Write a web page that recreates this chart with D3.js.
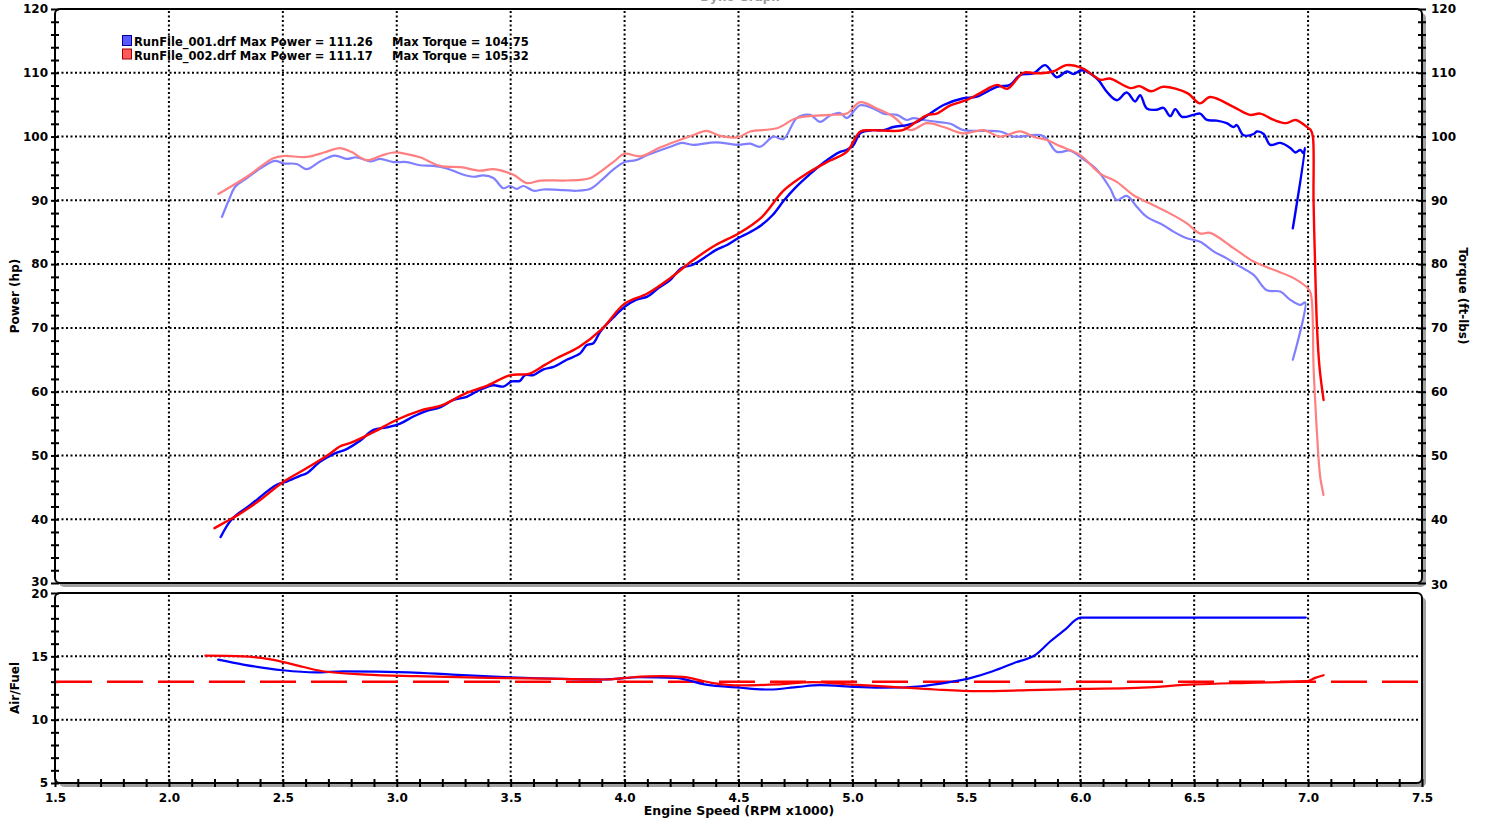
<!DOCTYPE html>
<html>
<head>
<meta charset="utf-8">
<script src="https://cdn.jsdelivr.net/npm/d3@7"></script>
<style>
    body { margin: 0; background: #fff; }
    svg text { font-family: "DejaVu Sans", Verdana, sans-serif; font-weight: bold; fill: #000; }
    .tick text { font-size: 12px; }
</style>
</head>
<body>
<svg id="chart" width="1485" height="825"></svg>
<script>
    // RunFile_001 (blue) - [rpm x1000, value]
    var pwr1 = [
        [2.227, 37.2], [2.276, 40.0], [2.356, 42.2], [2.473, 45.4], [2.517, 45.9], [2.575, 46.8],
        [2.605, 47.2], [2.663, 49.0], [2.722, 50.2], [2.78, 51.0], [2.839, 52.3], [2.898, 54.0],
        [2.956, 54.4], [3.015, 55.0], [3.073, 56.1], [3.132, 57.0], [3.19, 57.55], [3.249, 58.7],
        [3.307, 59.2], [3.366, 60.3], [3.424, 61.0], [3.468, 60.8], [3.505, 61.6], [3.541, 61.7],
        [3.563, 62.6], [3.60, 62.6], [3.644, 63.5], [3.688, 63.9], [3.746, 65.0], [3.805, 66.0],
        [3.834, 67.3], [3.863, 67.6], [3.893, 69.4], [3.95, 71.6], [4.00, 73.3], [4.05, 74.4],
        [4.10, 74.9], [4.15, 76.3], [4.20, 77.5], [4.25, 79.4], [4.30, 79.9], [4.35, 81.0],
        [4.40, 82.2], [4.45, 83.0], [4.50, 84.1], [4.55, 85.0], [4.60, 86.1], [4.65, 87.7],
        [4.70, 90.0], [4.75, 92.0], [4.81, 94.0], [4.873, 95.9], [4.946, 97.6], [4.975, 97.9],
        [5.005, 98.7], [5.034, 100.5], [5.092, 101.0], [5.136, 101.0], [5.18, 101.5], [5.239, 101.8],
        [5.283, 102.3], [5.341, 103.6], [5.40, 104.95], [5.487, 106.0], [5.546, 106.25], [5.634, 107.8],
        [5.692, 108.1], [5.736, 109.65], [5.795, 109.9], [5.846, 111.2], [5.897, 109.3], [5.941, 110.2],
        [5.97, 109.8], [6.007, 110.4], [6.073, 109.1], [6.117, 107.0], [6.161, 105.7], [6.204, 106.9],
        [6.241, 105.5], [6.263, 106.5], [6.292, 104.4], [6.336, 104.2], [6.365, 104.5], [6.395, 103.2],
        [6.417, 104.3], [6.446, 103.1], [6.497, 103.4], [6.526, 103.6], [6.556, 102.6], [6.599, 102.5],
        [6.643, 102.1], [6.673, 101.5], [6.687, 101.8], [6.717, 100.2], [6.761, 100.4], [6.775, 100.8],
        [6.805, 100.4], [6.834, 98.7], [6.878, 99.0], [6.922, 98.2], [6.944, 97.5], [6.966, 97.9],
        [6.98, 97.4], [6.987, 98.2], [6.933, 85.6]
    ];
    var trq1 = [
        [2.233, 87.4], [2.265, 90.2], [2.29, 92.1], [2.342, 93.5], [2.414, 95.3], [2.466, 96.2],
        [2.502, 95.8], [2.561, 95.7], [2.605, 94.9], [2.663, 96.1], [2.729, 97.0], [2.78, 96.5],
        [2.824, 96.75], [2.883, 96.1], [2.927, 96.5], [2.985, 96.0], [3.044, 96.0], [3.102, 95.5],
        [3.161, 95.4], [3.22, 95.0], [3.278, 94.2], [3.336, 93.7], [3.38, 93.9], [3.424, 93.5],
        [3.468, 91.9], [3.497, 92.25], [3.527, 91.8], [3.556, 92.25], [3.60, 91.5], [3.644, 91.7],
        [3.731, 91.6], [3.79, 91.5], [3.85, 91.8], [3.90, 93.2], [3.95, 94.8], [4.00, 96.0],
        [4.05, 96.3], [4.10, 97.1], [4.20, 98.4], [4.25, 99.0], [4.30, 98.7], [4.40, 99.1],
        [4.50, 98.7], [4.551, 98.9], [4.595, 98.4], [4.653, 100.0], [4.697, 99.6], [4.756, 102.9],
        [4.814, 103.4], [4.858, 102.3], [4.902, 103.3], [4.946, 103.7], [4.975, 102.9], [5.034, 104.9],
        [5.092, 104.4], [5.136, 103.6], [5.195, 103.4], [5.239, 102.6], [5.268, 102.9], [5.312, 102.6],
        [5.371, 102.3], [5.43, 102.0], [5.487, 101.0], [5.575, 100.9], [5.648, 100.8], [5.707, 100.0],
        [5.838, 100.1], [5.897, 97.6], [5.956, 97.8], [6.0, 96.8], [6.073, 94.8], [6.131, 91.9],
        [6.16, 90.05], [6.204, 90.7], [6.248, 89.0], [6.292, 87.4], [6.365, 86.1], [6.409, 85.1],
        [6.468, 84.05], [6.526, 83.5], [6.585, 82.0], [6.643, 80.9], [6.702, 79.6], [6.761, 78.3],
        [6.819, 75.9], [6.878, 75.7], [6.922, 74.4], [6.966, 73.6], [6.987, 74.0], [6.933, 65.0]
    ];
    var afr1 = [
        [2.216, 14.74], [2.326, 14.35], [2.50, 13.9], [2.642, 13.74], [2.768, 13.82], [3.053, 13.74],
        [3.243, 13.56], [3.496, 13.35], [3.718, 13.22], [3.908, 13.17], [4.066, 13.35], [4.224, 13.30],
        [4.35, 12.78], [4.508, 12.52], [4.635, 12.38], [4.762, 12.59], [4.856, 12.72], [5.014, 12.59],
        [5.141, 12.52], [5.30, 12.64], [5.426, 12.96], [5.521, 13.30], [5.616, 13.82], [5.71, 14.48],
        [5.805, 15.13], [5.868, 16.17], [5.932, 17.09], [6.001, 18.06], [6.99, 18.06]
    ];

    // RunFile_002 (red)
    var pwr2 = [
        [2.20, 38.6], [2.25, 39.6], [2.30, 40.6], [2.40, 43.0], [2.50, 45.8], [2.60, 47.9],
        [2.70, 50.1], [2.75, 51.4], [2.80, 52.0], [2.90, 53.7], [3.00, 55.6], [3.10, 57.0],
        [3.20, 57.9], [3.30, 59.7], [3.40, 61.0], [3.50, 62.6], [3.58, 62.8], [3.65, 64.2],
        [3.70, 65.2], [3.80, 67.0], [3.90, 69.8], [4.00, 73.8], [4.10, 75.4], [4.20, 77.8],
        [4.30, 80.6], [4.40, 83.0], [4.50, 84.8], [4.60, 87.3], [4.70, 91.6], [4.80, 94.2],
        [4.90, 96.2], [4.975, 97.6], [5.035, 100.8], [5.08, 101.0], [5.22, 101.0], [5.28, 102.3],
        [5.33, 103.4], [5.37, 103.6], [5.43, 104.9], [5.50, 105.7], [5.56, 106.8], [5.635, 108.1],
        [5.68, 107.5], [5.75, 110.0], [5.81, 109.9], [5.88, 110.2], [5.94, 111.2], [6.01, 110.7],
        [6.09, 108.9], [6.13, 109.1], [6.22, 107.6], [6.26, 107.9], [6.31, 107.1], [6.365, 107.8],
        [6.47, 106.8], [6.525, 105.2], [6.57, 106.2], [6.67, 104.7], [6.745, 103.4], [6.79, 103.6],
        [6.85, 102.6], [6.905, 102.1], [6.945, 102.6], [7.002, 101.3], [7.012, 101.0], [7.021, 100.0],
        [7.024, 90.0], [7.031, 79.6], [7.039, 70.2], [7.050, 63.9], [7.068, 58.7]
    ];
    var trq2 = [
        [2.217, 91.0], [2.342, 93.7], [2.458, 96.6], [2.502, 96.95], [2.605, 96.8], [2.68, 97.5],
        [2.751, 98.2], [2.80, 97.6], [2.868, 96.3], [2.93, 97.0], [2.985, 97.5], [3.05, 97.2],
        [3.102, 96.75], [3.19, 95.4], [3.28, 95.2], [3.366, 94.65], [3.424, 94.9], [3.512, 94.0],
        [3.571, 92.7], [3.629, 93.1], [3.731, 93.1], [3.805, 93.2], [3.85, 93.5], [3.95, 96.0],
        [4.00, 97.3], [4.07, 96.9], [4.15, 98.2], [4.20, 98.9], [4.30, 100.2], [4.36, 100.9],
        [4.42, 100.1], [4.50, 99.9], [4.551, 100.8], [4.668, 101.3], [4.756, 102.9], [4.902, 103.4],
        [4.975, 103.6], [5.034, 105.4], [5.107, 104.4], [5.18, 103.1], [5.253, 101.0], [5.327, 102.1],
        [5.40, 101.5], [5.487, 100.5], [5.575, 101.0], [5.648, 100.0], [5.736, 100.8], [5.80, 99.9],
        [5.85, 99.5], [5.912, 98.5], [6.0, 97.1], [6.087, 94.2], [6.16, 92.9], [6.234, 90.8],
        [6.307, 89.5], [6.38, 88.2], [6.468, 86.4], [6.526, 84.8], [6.57, 84.9], [6.673, 82.5],
        [6.761, 80.4], [6.849, 79.1], [6.937, 77.8], [7.006, 75.9], [7.016, 74.4], [7.024, 63.9],
        [7.031, 58.7], [7.039, 53.5], [7.053, 46.7], [7.068, 43.8]
    ];
    var afr2 = [
        [2.16, 15.05], [2.326, 15.0], [2.453, 14.74], [2.548, 14.35], [2.674, 13.82], [2.864, 13.56],
        [3.085, 13.43], [3.402, 13.30], [3.718, 13.22], [3.908, 13.17], [4.034, 13.35], [4.161, 13.43],
        [4.255, 13.38], [4.382, 12.91], [4.508, 12.70], [4.667, 12.78], [4.825, 12.96], [4.983, 12.78],
        [5.173, 12.59], [5.362, 12.38], [5.552, 12.25], [5.773, 12.33], [6.001, 12.43], [6.248, 12.51],
        [6.501, 12.78], [6.737, 12.91], [6.998, 13.04], [7.031, 13.30], [7.068, 13.51]
    ];

    var afrTarget = 13;
    var legendNames = ["RunFile_001.drf", "RunFile_002.drf"];
    var maxPower = ["111.26", "111.17"];
    var maxTorque = ["104.75", "105.32"];

    var svg = d3.select("#chart");

    var left = 55, right = 1422;
    var topY0 = 9, topY1 = 583, botY0 = 593, botY1 = 783;

    var x = d3.scaleLinear().domain([1.5, 7.5]).range([left, right]);
    var yTop = d3.scaleLinear().domain([30, 120]).range([topY1, topY0]);
    var yBot = d3.scaleLinear().domain([5, 20]).range([botY1, botY0]);

    // title, mostly above the page edge
    svg.append("text")
        .attr("x", 740).attr("y", 1)
        .attr("text-anchor", "middle")
        .style("font-size", "12px")
        .style("fill", "#999")
        .text("Dyno Graph");

    // panel frames with grey shadow
    function frame(y0, y1) {
        svg.append("rect")
            .attr("x", left + 4).attr("y", y0 + 4)
            .attr("width", right - left).attr("height", y1 - y0)
            .attr("rx", 5).attr("fill", "#a0a0a0");
        svg.append("rect")
            .attr("x", left).attr("y", y0)
            .attr("width", right - left).attr("height", y1 - y0)
            .attr("rx", 5).attr("fill", "#fff")
            .attr("stroke", "#000").attr("stroke-width", 2);
    }
    frame(topY0, topY1);
    frame(botY0, botY1);

    // dotted grid
    var vGrid = d3.range(20, 71, 5).map(function (d) { return d / 10; });
    function grid(ys, yScale, y0, y1) {
        svg.append("g").selectAll("line.v")
            .data(vGrid).enter().append("line")
            .attr("x1", function (d) { return x(d); })
            .attr("x2", function (d) { return x(d); })
            .attr("y1", y0 + 2).attr("y2", y1 - 2)
            .attr("stroke", "#000").attr("stroke-width", 2)
            .attr("stroke-dasharray", "2,2.5");
        svg.append("g").selectAll("line.h")
            .data(ys).enter().append("line")
            .attr("x1", left + 2).attr("x2", right - 2)
            .attr("y1", function (d) { return yScale(d); })
            .attr("y2", function (d) { return yScale(d); })
            .attr("stroke", "#000").attr("stroke-width", 2)
            .attr("stroke-dasharray", "2,2.5");
    }
    grid(d3.range(40, 111, 10), yTop, topY0, topY1);
    grid([10, 15], yBot, botY0, botY1);

    // axes, ticks crossing the frame
    function crossTicks(g, horiz) {
        g.select(".domain").remove();
        g.selectAll(".tick line")
            .attr("stroke", "#000").attr("stroke-width", 2)
            .attr(horiz ? "y1" : "x1", 4)
            .attr(horiz ? "y2" : "x2", -4);
    }
    var fmt10 = function (d) { return d % 10 === 0 ? d : ""; };

    var gL = svg.append("g").attr("transform", "translate(" + left + ",0)")
        .call(d3.axisLeft(yTop).tickValues(d3.range(30, 121, 2)).tickSize(4).tickPadding(3).tickFormat(fmt10));
    crossTicks(gL, false);
    gL.selectAll(".tick text").attr("dy", function (d) { return d === 30 ? "0.2em" : "0.32em"; });

    var gR = svg.append("g").attr("transform", "translate(" + right + ",0)")
        .call(d3.axisRight(yTop).tickValues(d3.range(30, 121, 2)).tickSize(4).tickPadding(5).tickFormat(fmt10));
    crossTicks(gR, false);
    gR.selectAll(".tick text").attr("dy", function (d) { return d === 30 ? "0.45em" : "0.32em"; });

    var gB = svg.append("g").attr("transform", "translate(" + left + ",0)")
        .call(d3.axisLeft(yBot).tickValues(d3.range(5, 21, 1)).tickSize(4).tickPadding(3)
            .tickFormat(function (d) { return d % 5 === 0 ? d : ""; }));
    crossTicks(gB, false);
    gB.selectAll(".tick text").attr("dy", function (d) { return d === 20 ? "0.4em" : "0.32em"; });

    var gX = svg.append("g").attr("transform", "translate(0," + botY1 + ")")
        .call(d3.axisBottom(x).tickValues(d3.range(15, 76).map(function (d) { return d / 10; }))
            .tickSize(4).tickPadding(6)
            .tickFormat(function (d) { return Math.round(d * 10) % 5 === 0 ? d.toFixed(1) : ""; }));
    crossTicks(gX, true);

    // axis titles
    svg.append("text")
        .attr("transform", "translate(19,296) rotate(-90)")
        .attr("text-anchor", "middle").style("font-size", "12px")
        .text("Power (hp)");
    svg.append("text")
        .attr("transform", "translate(1459,296) rotate(90)")
        .attr("text-anchor", "middle").style("font-size", "12px")
        .text("Torque (ft-lbs)");
    svg.append("text")
        .attr("transform", "translate(19,688) rotate(-90)")
        .attr("text-anchor", "middle").style("font-size", "12px")
        .text("Air/Fuel");
    svg.append("text")
        .attr("x", 739).attr("y", 815)
        .attr("text-anchor", "middle").style("font-size", "12.5px")
        .text("Engine Speed (RPM x1000)");

    // curves
    var lineTop = d3.line()
        .x(function (d) { return x(d[0]); })
        .y(function (d) { return yTop(d[1]); })
        .curve(d3.curveCatmullRom.alpha(0.5));
    var lineBot = d3.line()
        .x(function (d) { return x(d[0]); })
        .y(function (d) { return yBot(d[1]); })
        .curve(d3.curveMonotoneX);

    function draw(data, gen, color, w) {
        svg.append("path").datum(data)
            .attr("d", gen)
            .attr("fill", "none")
            .attr("stroke", color)
            .attr("stroke-width", w)
            .attr("stroke-linejoin", "round")
            .attr("stroke-linecap", "round");
    }

    draw(trq1, lineTop, "#8080ff", 2.2);
    draw(trq2, lineTop, "#ff8080", 2.2);
    draw(pwr1, lineTop, "#0000ff", 2.4);
    draw(pwr2, lineTop, "#ff0000", 2.4);

    svg.append("line")
        .attr("x1", left + 1).attr("x2", right - 1)
        .attr("y1", yBot(afrTarget)).attr("y2", yBot(afrTarget))
        .attr("stroke", "#ff0000").attr("stroke-width", 2.5)
        .attr("stroke-dasharray", "36,15");
    draw(afr1, lineBot, "#0000ff", 2.2);
    draw(afr2, lineBot, "#ff0000", 2.2);

    // legend
    var swFill = ["#5a5aff", "#ff5a5a"], swStroke = ["#0000a0", "#a00000"];
    legendNames.forEach(function (name, i) {
        var yy = 35 + i * 13.5;
        svg.append("rect")
            .attr("x", 122.5).attr("y", yy + 0.5)
            .attr("width", 9).attr("height", 10)
            .attr("fill", swFill[i]).attr("stroke", swStroke[i]).attr("stroke-width", 1);
        svg.append("text")
            .attr("x", 134).attr("y", yy + 11)
            .style("font-size", "11.5px")
            .text(name + " Max Power = " + maxPower[i]);
        svg.append("text")
            .attr("x", 392).attr("y", yy + 11)
            .style("font-size", "11.5px")
            .text("Max Torque = " + maxTorque[i]);
    });
</script>
</body>
</html>
